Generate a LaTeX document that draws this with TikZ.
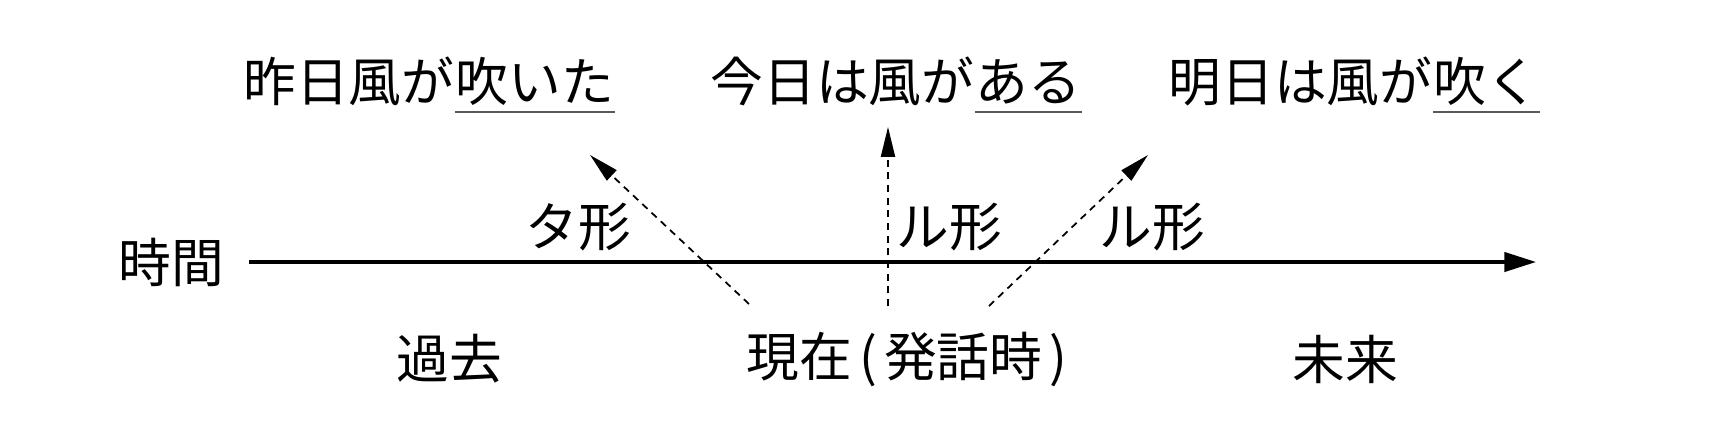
\documentclass[tikz,border=0pt]{standalone}
\usepackage{fontspec}
\setmainfont{Noto Sans CJK JP}
\usetikzlibrary{arrows.meta}
\tikzset{
  zeit/.style={line width=0.9pt,-{Triangle[length=9pt,width=5.5pt]}},
  form/.style={line width=0.5pt,dash pattern=on 2pt off 1.6pt,-{Triangle[length=8.5pt,width=4pt]}},
  uline/.style={gray!70!black,line width=0.7pt}
}
\begin{document}
\begin{tikzpicture}[font=\fontsize{15}{18}\selectfont]
\useasboundingbox (0,0) rectangle (17.14,4.24);
\begin{scope}
\node (JK) at (1.71,1.62) {時間};
\coordinate (T0) at (2.49,1.62);
\coordinate (T1) at (15.36,1.62);
\draw[zeit] (T0) -- (T1);
\node (KINO) at (4.55,3.22) [anchor=base east,inner sep=0] {昨日風が};
\node (KINOV) at (4.55,3.22) [anchor=base west,inner sep=0] {吹いた};
\node (KYO) at (9.75,3.22) [anchor=base east,inner sep=0] {今日は風が};
\node (KYOV) at (9.75,3.22) [anchor=base west,inner sep=0] {ある};
\node (ASU) at (14.33,3.22) [anchor=base east,inner sep=0] {明日は風が};
\node (ASUV) at (14.33,3.22) [anchor=base west,inner sep=0] {吹く};
\draw[uline] ([yshift=-0.1cm]KINOV.base west) -- ([yshift=-0.1cm]KINOV.base east);
\draw[uline] ([yshift=-0.1cm]KYOV.base west) -- ([yshift=-0.1cm]KYOV.base east);
\draw[uline] ([yshift=-0.1cm]ASUV.base west) -- ([yshift=-0.1cm]ASUV.base east);
\node (TA) at (5.78,1.97) {タ形};
\node (RU1) at (9.49,1.97) {ル形};
\node (RU2) at (11.52,1.97) {ル形};
\node (KAKO) at (4.49,0.65) {過去};
\node (GENZAI) at (9.07,0.65) {現在\hspace{2pt}(\hspace{2pt}発話時\hspace{2pt})};
\node (MIRAI) at (13.45,0.65) {未来};
\coordinate (G1) at (7.49,1.20);
\coordinate (G2) at (8.88,1.18);
\coordinate (G3) at (9.89,1.18);
\coordinate (P1) at (5.90,2.69);
\coordinate (P2) at (8.88,2.97);
\coordinate (P3) at (11.48,2.69);
\draw[form] (G1) -- (P1);
\draw[form] (G2) -- (P2);
\draw[form] (G3) -- (P3);
\end{scope}
\end{tikzpicture}
\end{document}
